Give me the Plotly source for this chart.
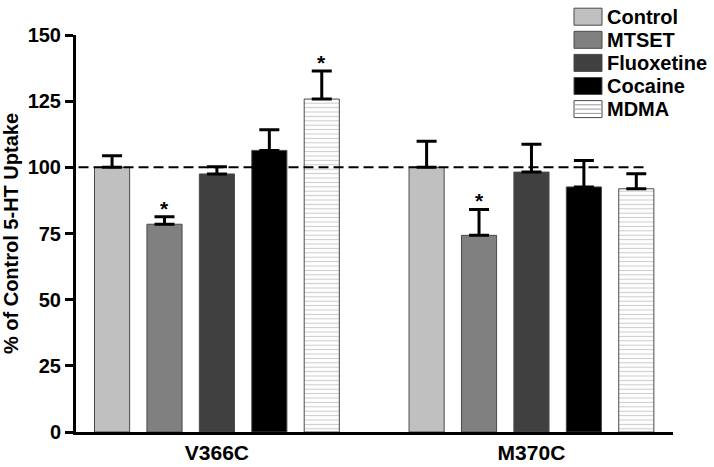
import plotly.graph_objects as go

# ---------------- data ----------------
groups = ["V366C", "M370C"]
treatments = ["Control", "MTSET", "Fluoxetine", "Cocaine", "MDMA"]

control_vals = [100.0, 100.0]
mtset_vals = [78.5, 74.3]
fluoxetine_vals = [97.5, 98.2]
cocaine_vals = [106.4, 92.6]
mdma_vals = [125.8, 91.9]

control_sem = [4.4, 9.9]
mtset_sem = [2.8, 9.8]
fluoxetine_sem = [2.7, 10.5]
cocaine_sem = [7.8, 10.0]
mdma_sem = [10.6, 5.7]

# significance markers (1 = '*')
control_sig = [0, 0]
mtset_sig = [1, 1]
fluoxetine_sig = [0, 0]
cocaine_sig = [0, 0]
mdma_sig = [1, 0]

y_ticks = [0, 25, 50, 75, 100, 125, 150]
reference_level = 100

all_vals = [control_vals, mtset_vals, fluoxetine_vals, cocaine_vals, mdma_vals]
all_sem = [control_sem, mtset_sem, fluoxetine_sem, cocaine_sem, mdma_sem]
all_sig = [control_sig, mtset_sig, fluoxetine_sig, cocaine_sig, mdma_sig]

# ---------------- style ----------------
FONT = "Arial, Liberation Sans, sans-serif"
colors = ["#c0c0c0", "#808080", "#404040", "#000000", "#ffffff"]
W, H = 714, 467
ML, MR, MT, MB = 76, 41, 35, 35
BARGAP = 1 / 6
GROUPGAP = 0.33

fig = go.Figure()
for i, name in enumerate(treatments):
    marker = dict(color=colors[i], line=dict(color="#4a4a4a", width=1))
    if name == "MDMA":
        marker["pattern"] = dict(shape="-", fgcolor="#9a9a9a", bgcolor="#ffffff",
                                 size=4.4, solidity=0.25)
    fig.add_trace(go.Bar(
        name=name, x=groups, y=all_vals[i], marker=marker,
        error_y=dict(type="data", symmetric=False, array=all_sem[i],
                     arrayminus=[0] * len(groups), color="black",
                     thickness=3, width=10),
        showlegend=False,
    ))

# significance stars
n = len(treatments)
slot = (1 - BARGAP) / n
for i in range(n):
    for g in range(len(groups)):
        if all_sig[i][g]:
            fig.add_annotation(
                x=g + (i - (n - 1) / 2) * slot, y=all_vals[i][g] + all_sem[i][g],
                xref="x", yref="y", text="<b>*</b>", showarrow=False,
                yanchor="bottom", yshift=-5,
                font=dict(family=FONT, size=21, color="black"))

# dashed reference line
fig.add_shape(type="line", xref="x", yref="y", x0=-0.44, x1=1.37,
              y0=reference_level, y1=reference_level,
              line=dict(color="black", width=2, dash="10px,5px"))

# custom legend (pixel layout converted to paper coords)
pw, ph = W - ML - MR, H - MT - MB
def px2x(px):
    return (px - ML) / pw
def py2y(py):
    return 1 - (py - MT) / ph

sw_x0, sw_x1 = 574, 602
sw_h = 17
first_c, step = 16.7, 23.1
for i, name in enumerate(treatments):
    cy = first_c + i * step
    fig.add_shape(type="rect", xref="paper", yref="paper",
                  x0=px2x(sw_x0), x1=px2x(sw_x1),
                  y0=py2y(cy + sw_h / 2), y1=py2y(cy - sw_h / 2),
                  fillcolor=colors[i], line=dict(color="#4a4a4a", width=1))
    if name == "MDMA":
        for dy in (-4.3, 0, 4.3):
            fig.add_shape(type="line", xref="paper", yref="paper",
                          x0=px2x(sw_x0 + 1), x1=px2x(sw_x1 - 1),
                          y0=py2y(cy + dy), y1=py2y(cy + dy),
                          line=dict(color="#9a9a9a", width=1))
    fig.add_annotation(x=px2x(606), y=py2y(cy), xref="paper", yref="paper",
                       text=f"<b>{name}</b>", showarrow=False,
                       xanchor="left", yanchor="middle", borderpad=0,
                       font=dict(family=FONT, size=20, color="black"))

fig.update_layout(
    width=W, height=H,
    margin=dict(l=ML, r=MR, t=MT, b=MB, pad=0, autoexpand=False),
    plot_bgcolor="white", paper_bgcolor="white",
    barmode="group", bargap=BARGAP, bargroupgap=GROUPGAP,
    font=dict(family=FONT, size=20, color="black"),
    showlegend=False,
)
fig.update_xaxes(
    type="category", range=[-0.448, 1.45], automargin=False,
    showline=True, linewidth=3, linecolor="black", ticks="",
    showgrid=False, zeroline=False,
    tickfont=dict(family=FONT, size=21, color="black", weight="bold"),
)
fig.update_yaxes(
    range=[0, 150], tickvals=y_ticks, ticktext=[f"<b>{v}</b>" for v in y_ticks],
    automargin=False,
    showline=True, linewidth=3, linecolor="black",
    ticks="outside", ticklen=8, tickwidth=3, tickcolor="black",
    showgrid=False, zeroline=False,
    tickfont=dict(family=FONT, size=20, color="black"),
    title=dict(text="<b>% of Control 5-HT Uptake</b>", standoff=5,
               font=dict(family=FONT, size=20, color="black")),
)

# remove the default 8px page margin so the figure sits at the window origin
fig.write_html("out.html",
               config={"displayModeBar": False},
               post_script="document.body.style.margin='0';document.body.style.overflow='hidden';")
